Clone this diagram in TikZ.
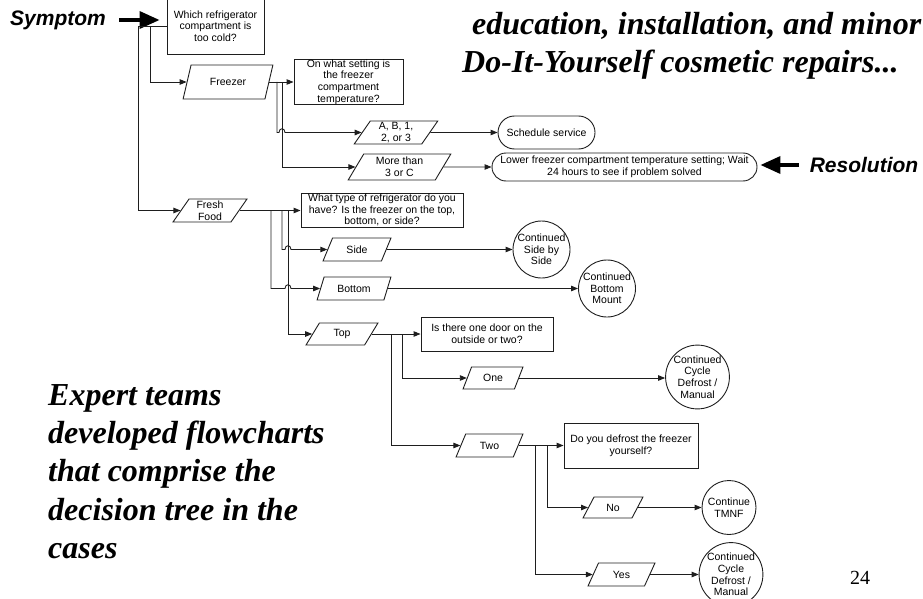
\documentclass[tikz,border=0pt]{standalone}
\usepackage{fontspec}
\setmainfont{Liberation Serif}
\setsansfont{Liberation Sans}
\usetikzlibrary{arrows.meta, shapes.geometric, shapes.misc, calc}
\definecolor{grisLinea}{HTML}{1E1E1E}
\tikzset{
  cajaBase/.style={
    draw=grisLinea, line width=0.9pt, align=center, inner sep=0pt,
    font=\sffamily\fontsize{10.5}{11.6}\selectfont, text=black
  },
  cajaPregunta/.style={cajaBase, rectangle},
  cajaOpcion/.style={cajaBase, trapezium, trapezium left angle=62,
    trapezium right angle=118, trapezium stretches=true},
  cajaFin/.style={cajaBase, rounded rectangle},
  circuloSigue/.style={cajaBase, circle, minimum size=57pt},
  flecha/.style={-{Triangle[length=7pt, width=5.5pt]}, line width=0.9pt, grisLinea},
  flechaGruesa/.style={-{Triangle[length=20pt, width=17pt]}, line width=3.5pt, black},
  etiquetaGrande/.style={inner sep=0pt, font=\sffamily\bfseries\itshape\fontsize{21}{24}\selectfont},
  textoTitulo/.style={anchor=base west, inner sep=0pt, font=\bfseries\itshape\fontsize{32}{40}\selectfont},
}
\begin{document}
\begin{tikzpicture}[x=1pt, y=-1pt]
  \useasboundingbox (0,0) rectangle (923,599);
  \clip (0,0) rectangle (923,599);

  \node[textoTitulo] (titulo1) at (472,35) {education, installation, and minor};
  \node[textoTitulo] (titulo2) at (462,73) {Do-It-Yourself cosmetic repairs...};
  \node[anchor=north west, align=left, inner sep=0pt,
        font=\bfseries\itshape\fontsize{32}{38.3}\selectfont] (expertos) at (48,384)
        {Expert teams\\developed flowcharts\\that comprise the\\decision tree in the\\cases};
  \node[font=\fontsize{20}{24}\selectfont] (pagina) at (860,578) {24};

  \node[etiquetaGrande] (sintoma) at (58,20) {Symptom};
  \node[etiquetaGrande] (resolucion) at (864,165) {Resolution};

  \node[cajaPregunta, minimum width=97pt, minimum height=56pt] (q1) at (215.5,26)
    {Which refrigerator\\compartment is\\too cold?};
  \node[cajaOpcion, minimum width=90pt, minimum height=34pt] (congelador) at (228,82) {Freezer};
  \node[cajaPregunta, minimum width=109pt, minimum height=45pt] (q2) at (348.5,82)
    {On what setting is\\the freezer\\compartment\\temperature?};
  \node[cajaOpcion, minimum width=84pt, minimum height=23pt] (ab) at (396,132.5) {A, B, 1,\\2, or 3};
  \node[cajaFin, minimum width=97pt, minimum height=33pt] (servicio) at (546.5,132.5) {Schedule service};
  \node[cajaOpcion, minimum width=103pt, minimum height=26pt] (mas3) at (399.5,167) {More than\\3 or C};
  \node[cajaFin, minimum width=265pt, minimum height=28pt] (bajar) at (624.5,167)
    {Lower freezer compartment temperature setting; Wait\\24 hours to see if problem solved};

  \node[cajaOpcion, minimum width=74pt, minimum height=23pt] (fresca) at (210,210.5) {Fresh\\Food};
  \node[cajaPregunta, minimum width=162pt, minimum height=34pt] (q3) at (382,210)
    {What type of refrigerator do you\\have? Is the freezer on the top,\\bottom, or side?};
  \node[cajaOpcion, minimum width=68pt, minimum height=23pt] (lado) at (357,249.5) {Side};
  \node[circuloSigue] (sigueLado) at (541.5,249.5) {Continued\\Side by\\Side};
  \node[cajaOpcion, minimum width=74pt, minimum height=23pt] (abajo) at (354,288.5) {Bottom};
  \node[circuloSigue] (sigueAbajo) at (607,288.5) {Continued\\Bottom\\Mount};
  \node[cajaOpcion, minimum width=72pt, minimum height=22pt] (arriba) at (342,334) {Top};
  \node[cajaPregunta, minimum width=132pt, minimum height=34pt] (q4) at (487,334)
    {Is there one door on the\\outside or two?};
  \node[cajaOpcion, minimum width=60pt, minimum height=22pt] (una) at (493,378) {One};
  \node[circuloSigue] (sigueUna) at (697.5,377) {Continued\\Cycle\\Defrost /\\Manual};
  \node[cajaOpcion, minimum width=67pt, minimum height=23pt] (dos) at (489.5,445.5) {Two};
  \node[cajaPregunta, minimum width=134pt, minimum height=45pt] (q5) at (631,445.5)
    {Do you defrost the freezer\\yourself?};
  \node[cajaOpcion, minimum width=60pt, minimum height=21pt] (resNo) at (613,507.5) {No};
  \node[circuloSigue, minimum size=54pt] (sigueNo) at (729,507.5) {Continue\\TMNF};
  \node[cajaOpcion, minimum width=67pt, minimum height=23pt] (resSi) at (621.5,574.5) {Yes};
  \node[circuloSigue, minimum size=56pt] (sigueSi) at (731,574.5) {Continued\\Cycle\\Defrost /\\Manual};

  \draw[flechaGruesa, shorten <=13pt, shorten >=7pt] (sintoma.east) -- (sintoma.east -| q1.west);
  \draw[flechaGruesa, shorten <=11pt, shorten >=3pt] (resolucion.west) -- (resolucion.west -| bajar.east);

  \coordinate (nudoA) at (150,26);
  \coordinate (nudoB) at (138,26);
  \draw[flecha] (q1.west) -- (nudoB) |- (fresca.west);
  \draw[flecha] (nudoA) |- (congelador.west);

  \coordinate (nudoC) at (277,82);
  \coordinate (nudoD) at (282,82);
  \draw[flecha] (congelador.east) -- (congelador.east -| q2.west);
  \draw[flecha] (nudoD) |- (mas3.west);
  \draw[flecha] (nudoC) -- (nudoC |- ab.west) -- ++(2,0)
    .. controls +(0,-5) and +(0,-5) .. ++(6,0) -- (ab.west);
  \draw[flecha] (ab) -- (servicio);
  \draw[flecha] (mas3) -- (bajar);

  \coordinate (nudoE) at (271,210.5);
  \coordinate (nudoF) at (282,210.5);
  \coordinate (nudoG) at (288,210.5);
  \draw[flecha] (fresca.east) -- (fresca.east -| q3.west);
  \draw[flecha] (nudoG) |- (arriba.west);
  \draw[flecha] (nudoF) -- (nudoF |- lado.west) -- ++(3,0)
    .. controls +(0,-5) and +(0,-5) .. ++(6,0) -- (lado.west);
  \draw[flecha] (nudoE) -- (nudoE |- abajo.west) -- ++(14,0)
    .. controls +(0,-5) and +(0,-5) .. ++(6,0) -- (abajo.west);
  \draw[flecha] (lado) -- (sigueLado);
  \draw[flecha] (abajo) -- (sigueAbajo);

  \coordinate (nudoH) at (391,334);
  \coordinate (nudoI) at (402,334);
  \draw[flecha] (arriba.east) -- (arriba.east -| q4.west);
  \draw[flecha] (nudoI) |- (una.west);
  \draw[flecha] (nudoH) |- (dos.west);
  \draw[flecha] (una.east) -- (una.east -| sigueUna.west);

  \coordinate (nudoJ) at (535,445.5);
  \coordinate (nudoK) at (547,445.5);
  \draw[flecha] (dos.east) -- (dos.east -| q5.west);
  \draw[flecha] (nudoK) |- (resNo.west);
  \draw[flecha] (nudoJ) |- (resSi.west);
  \draw[flecha] (resNo) -- (sigueNo);
  \draw[flecha] (resSi) -- (sigueSi);
\end{tikzpicture}
\end{document}
